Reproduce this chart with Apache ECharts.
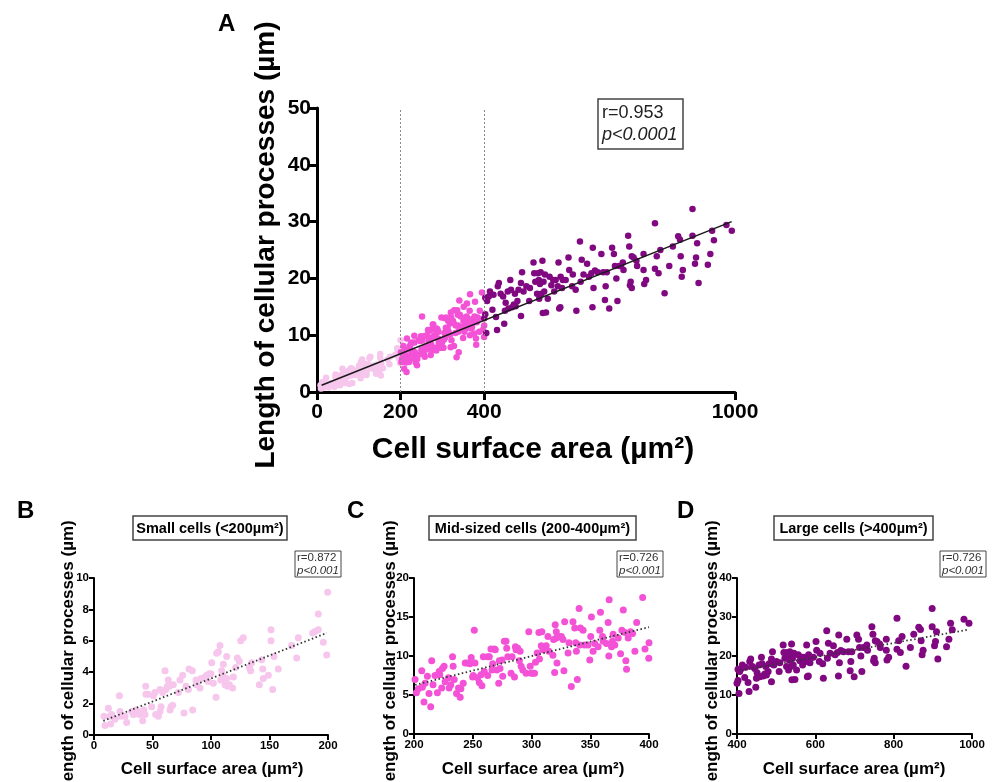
<!DOCTYPE html>
<html><head><meta charset="utf-8">
<script src="https://cdn.jsdelivr.net/npm/echarts@6/dist/echarts.min.js"></script>
<style>html,body{margin:0;padding:0;background:#fff}#c{width:992px;height:782px}</style>
</head><body><div id="c"></div>
<script>
// ---- data: cell surface area (µm²) vs length of cellular processes (µm)
const smallCells = [[8.5,1.2],[9.4,0.6],[12.3,1.7],[13.7,1.2],[14.2,0.7],[15.1,1.3],[17.9,1.0],[21.7,2.5],[22.2,1.5],[22.8,1.2],[26.5,1.2],[27.9,0.8],[32.2,1.5],[33.6,1.3],[35.9,1.6],[36.5,1.4],[38.7,1.3],[40.7,1.5],[41.6,0.9],[42.7,1.6],[43.6,1.3],[44.2,3.1],[44.4,2.6],[46.4,2.6],[49.3,1.8],[50.7,2.5],[52.1,2.7],[52.7,1.3],[55.0,1.2],[56.4,2.9],[56.4,1.5],[57.3,1.8],[58.7,2.7],[60.7,4.1],[61.5,2.9],[62.7,3.1],[63.5,3.5],[64.4,3.1],[65.0,1.6],[65.8,1.8],[67.2,1.9],[67.8,3.2],[72.1,2.7],[73.5,3.5],[75.8,3.8],[76.9,1.4],[78.6,3.1],[80.6,2.9],[81.2,4.2],[84.0,4.1],[84.3,1.6],[87.2,3.5],[87.7,3.2],[90.6,3.0],[91.5,3.6],[94.9,3.7],[96.3,3.8],[97.7,3.4],[98.6,3.9],[100.0,3.9],[100.6,4.6],[102.0,3.3],[104.3,2.4],[104.8,5.2],[106.3,5.3],[107.7,5.7],[108.3,3.5],[109.1,4.1],[110.0,3.8],[110.5,4.5],[112.0,3.2],[113.4,5.0],[113.4,3.6],[114.2,3.1],[115.7,3.2],[118.5,3.0],[119.1,3.7],[121.1,4.3],[122.5,4.9],[124.2,4.7],[125.4,6.0],[127.6,6.2],[132.8,4.3],[133.9,4.1],[134.8,4.6],[141.3,3.2],[143.3,4.8],[144.2,4.2],[144.7,3.6],[149.0,3.8],[151.3,6.7],[151.3,6.0],[152.7,2.9],[153.8,5.0],[157.5,4.2],[168.9,5.7],[173.2,4.9],[174.6,6.2],[186.9,6.5],[188.9,6.6],[191.7,6.7],[191.7,7.7],[196.0,5.9],[198.9,5.1],[199.7,9.1]];
const midCells = [[200.9,7.0],[202.0,5.3],[203.7,5.8],[206.6,8.1],[207.1,6.0],[208.5,4.1],[209.4,6.5],[211.4,7.4],[212.8,5.2],[214.2,3.5],[215.1,9.4],[216.2,6.3],[217.9,7.5],[219.9,5.3],[221.4,8.0],[221.9,7.6],[223.6,5.9],[224.2,8.4],[225.6,8.7],[226.5,6.7],[229.3,7.2],[229.9,5.9],[231.3,6.3],[232.8,9.9],[233.3,8.7],[234.2,7.0],[236.2,5.2],[237.9,5.9],[239.3,4.7],[239.9,5.8],[241.9,6.5],[243.6,9.1],[245.6,9.1],[247.6,9.0],[248.7,9.8],[249.9,7.3],[250.4,7.5],[251.3,13.3],[251.9,9.1],[254.1,7.2],[255.6,6.6],[257.0,7.6],[257.8,6.2],[259.0,9.9],[259.8,8.0],[262.7,9.9],[262.7,7.5],[264.1,9.9],[265.5,10.9],[266.4,8.2],[267.0,9.0],[268.4,10.9],[269.2,10.8],[270.4,8.2],[272.1,6.5],[272.6,9.4],[273.2,8.4],[274.9,9.5],[275.5,7.4],[276.9,11.9],[278.3,11.9],[278.9,11.0],[279.8,9.9],[282.6,7.8],[283.5,9.9],[285.5,7.3],[286.3,11.2],[286.9,10.8],[288.3,11.0],[289.7,9.4],[290.3,10.6],[291.2,8.7],[292.6,8.2],[295.4,7.8],[297.7,13.1],[298.9,8.7],[299.7,7.8],[301.1,7.8],[302.6,7.8],[303.4,9.2],[304.8,10.4],[306.3,13.0],[306.8,9.6],[308.3,11.3],[308.8,13.1],[309.7,10.8],[311.1,11.1],[312.5,11.3],[314.0,12.5],[314.8,10.6],[318.2,10.1],[318.8,12.1],[319.7,7.9],[320.2,14.0],[321.1,13.1],[321.1,12.3],[321.7,9.1],[323.4,12.5],[325.4,12.5],[326.8,12.1],[327.6,8.1],[328.2,14.4],[331.1,10.4],[331.9,11.7],[333.9,6.1],[335.3,14.4],[336.8,13.6],[337.6,11.7],[338.2,10.6],[339.0,7.0],[340.5,16.1],[341.0,11.4],[341.6,13.6],[343.9,13.3],[345.3,11.4],[348.1,11.4],[349.6,9.5],[350.4,12.5],[351.0,15.0],[352.4,10.6],[353.8,11.6],[356.7,11.2],[358.1,13.3],[358.7,15.6],[360.4,12.5],[361.0,11.9],[363.8,11.6],[365.2,14.3],[365.8,10.0],[366.1,17.2],[368.1,11.2],[368.9,11.9],[369.5,12.8],[370.9,11.4],[373.8,12.3],[375.8,10.3],[376.9,13.3],[378.1,15.9],[379.5,13.0],[380.3,9.4],[380.9,8.3],[382.3,12.3],[384.3,13.1],[386.0,12.9],[388.0,10.6],[389.5,14.3],[394.6,17.5],[396.6,10.9],[400.0,11.7],[399.8,9.7]];
const largeCells = [[400.0,13.0],[402.6,13.7],[405.1,10.4],[402.6,16.6],[406.8,16.0],[411.1,16.8],[413.7,17.7],[419.7,14.5],[422.2,17.1],[428.2,13.2],[430.8,10.9],[432.5,18.6],[435.0,19.2],[439.3,17.3],[445.3,16.8],[447.9,12.0],[449.6,14.3],[451.3,15.7],[456.4,17.7],[458.1,14.7],[462.4,19.7],[464.1,18.0],[466.7,14.9],[470.9,15.4],[473.5,17.3],[475.2,15.1],[479.5,16.0],[482.1,18.0],[488.0,19.2],[488.0,13.4],[490.6,21.1],[494.0,17.7],[500.9,18.6],[507.7,16.0],[509.4,18.3],[517.9,22.8],[519.7,20.9],[522.2,19.4],[526.5,17.3],[528.2,20.9],[530.8,19.7],[531.6,16.4],[533.3,19.0],[535.0,21.1],[536.8,17.3],[539.3,23.1],[540.2,13.9],[541.9,19.4],[543.6,17.7],[545.3,20.7],[547.9,14.0],[552.1,16.4],[556.4,20.3],[560.7,18.8],[565.0,19.7],[567.5,17.7],[570.9,19.7],[576.1,18.6],[577.8,22.8],[579.5,14.7],[582.1,14.9],[582.9,20.3],[586.3,18.3],[588.0,19.7],[594.9,19.7],[601.7,23.7],[603.4,21.5],[610.3,18.6],[612.0,20.7],[618.8,18.0],[620.5,14.3],[629.1,26.5],[630.8,19.4],[633.3,23.3],[637.6,20.7],[646.2,22.6],[650.4,20.3],[656.4,20.9],[659.8,25.4],[661.5,18.3],[659.0,14.9],[665.0,21.4],[671.8,21.1],[680.3,24.3],[684.6,21.1],[688.9,16.2],[690.6,18.6],[693.2,21.1],[699.1,14.7],[706.0,25.4],[710.3,24.3],[712.8,22.2],[716.2,20.0],[718.8,16.0],[723.1,22.2],[727.4,22.2],[731.6,22.8],[733.3,21.5],[744.4,27.5],[747.0,25.6],[748.7,18.8],[750.4,19.4],[753.0,23.9],[753.0,18.3],[757.3,23.7],[764.1,23.1],[765.8,22.2],[781.2,24.3],[781.2,21.5],[782.9,19.0],[787.2,19.7],[808.5,29.7],[808.5,21.7],[812.8,23.9],[817.1,20.9],[821.4,25.0],[831.6,17.4],[842.7,22.2],[851.3,25.6],[864.1,27.4],[868.4,26.8],[870.1,23.9],[872.6,20.3],[875.2,21.5],[898.3,32.2],[898.3,27.5],[904.3,22.6],[906.8,23.7],[909.4,26.2],[912.8,19.2],[935.0,22.4],[941.0,24.3],[945.3,28.4],[949.6,26.7],[979.5,29.4],[992.3,28.4]];

// regression lines (endpoints)
const fitAll = [[11, 1.2], [992, 30.0]];
const fitSmall = [[8, 0.9], [199, 6.5]];
const fitMid = [[201, 6.3], [400, 13.7]];
const fitLarge = [[410, 16.3], [992, 26.8]];

// axis ticks / cut-offs
const xTicksA = [0, 200, 400, 1000];
const sizeCutoffs = [200, 400];
const statsA = ['r=0.953', 'p<0.0001'];
const statsB = ['r=0.872', 'p<0.001'];
const statsC = ['r=0.726', 'p<0.001'];
const statsD = ['r=0.726', 'p<0.001'];

const COL_S = 'rgb(246,198,236)', COL_M = 'rgb(243,82,214)', COL_L = 'rgb(128,8,128)';
const FF = '"Liberation Sans", Arial, sans-serif';

const chart = echarts.init(document.getElementById('c'));

function axis(gi, min, max, interval, big) {
  return {
    type: 'value', gridIndex: gi, min: min, max: max, interval: interval,
    splitLine: { show: false },
    axisLine: { show: true, onZero: false, lineStyle: { color: '#000', width: big ? 3 : 2 } },
    axisTick: { show: true, inside: false, length: big ? 8 : 5, lineStyle: { color: '#000', width: big ? 3 : 2 } },
    axisLabel: { color: '#000', fontFamily: FF, fontWeight: 'bold', fontSize: big ? 21 : 11.5, margin: big ? 6 : 5,
      formatter: v => String(v) }
  };
}

const xA = axis(0, 0, 1000, 200, true);
xA.axisTick.customValues = xTicksA;
xA.axisLabel.customValues = xTicksA;
xA.axisLabel.margin = 10;

const option = {
  animation: false,
  backgroundColor: '#fff',
  grid: [
    { left: 317, top: 108, width: 418, height: 284 },
    { left: 94, top: 578, width: 234, height: 157 },
    { left: 414, top: 578, width: 235, height: 156 },
    { left: 737, top: 578, width: 235, height: 156 }
  ],
  xAxis: [
    xA,
    axis(1, 0, 200, 50, false),
    axis(2, 200, 400, 50, false),
    axis(3, 400, 1000, 200, false)
  ],
  yAxis: [
    axis(0, 0, 50, 10, true),
    axis(1, 0, 10, 2, false),
    axis(2, 0, 20, 5, false),
    axis(3, 0, 40, 10, false)
  ],
  series: [
    { type: 'scatter', xAxisIndex: 0, yAxisIndex: 0, data: smallCells, symbolSize: 6.5, itemStyle: { color: COL_S, opacity: 1 },
      markLine: { silent: true, symbol: 'none', label: { show: false }, lineStyle: { type: [2, 2], color: '#8a8a8a', width: 1 },
        data: sizeCutoffs.map(v => ({ xAxis: v })) } },
    { type: 'scatter', xAxisIndex: 0, yAxisIndex: 0, data: midCells, symbolSize: 6.5, itemStyle: { color: COL_M, opacity: 1 } },
    { type: 'scatter', xAxisIndex: 0, yAxisIndex: 0, data: largeCells, symbolSize: 6.5, itemStyle: { color: COL_L, opacity: 1 } },
    { type: 'line', xAxisIndex: 0, yAxisIndex: 0, data: fitAll, showSymbol: false, z: 5, lineStyle: { color: '#1a1a1a', width: 1.5 } },

    { type: 'scatter', xAxisIndex: 1, yAxisIndex: 1, data: smallCells, symbolSize: 7, itemStyle: { color: COL_S, opacity: 1 } },
    { type: 'line', xAxisIndex: 1, yAxisIndex: 1, data: fitSmall, showSymbol: false, z: 5, lineStyle: { color: '#333', width: 1.8, type: [1.5, 2.5] } },
    { type: 'scatter', xAxisIndex: 2, yAxisIndex: 2, data: midCells, symbolSize: 7, itemStyle: { color: COL_M, opacity: 1 } },
    { type: 'line', xAxisIndex: 2, yAxisIndex: 2, data: fitMid, showSymbol: false, z: 5, lineStyle: { color: '#333', width: 1.8, type: [1.5, 2.5] } },
    { type: 'scatter', xAxisIndex: 3, yAxisIndex: 3, data: largeCells, symbolSize: 7, itemStyle: { color: COL_L, opacity: 1 } },
    { type: 'line', xAxisIndex: 3, yAxisIndex: 3, data: fitLarge, showSymbol: false, z: 5, lineStyle: { color: '#333', width: 1.8, type: [1.5, 2.5] } }
  ],
  graphic: []
};

const G = option.graphic;
function txt(x, y, text, size, opts) {
  opts = opts || {};
  G.push({ type: 'text', x: x, y: y, rotation: opts.rot || 0, z: 100,
    style: { text: text, fontFamily: FF, fontSize: size, fontWeight: opts.weight || 'bold', fontStyle: opts.italic ? 'italic' : 'normal',
      fill: opts.fill || '#000', textAlign: opts.align || 'center', textVerticalAlign: 'middle' } });
}
function box(x, y, w, h, lw) {
  G.push({ type: 'rect', shape: { x: x, y: y, width: w, height: h }, z: 99,
    style: { fill: '#fff', stroke: '#444', lineWidth: lw || 1.5 } });
}

// Panel letters
txt(218, 24, 'A', 24, { align: 'left' });
txt(17, 511, 'B', 24, { align: 'left' });
txt(347, 511, 'C', 24, { align: 'left' });
txt(677, 511, 'D', 24, { align: 'left' });

// Panel A titles
const yTitle = 'Length of cellular processes (µm)';
const xTitle = 'Cell surface area (µm²)';
txt(266, 245, yTitle, 28, { rot: Math.PI / 2 });
txt(533, 450, xTitle, 30);
box(598, 99, 85, 50, 1.5);
txt(602, 113, statsA[0], 18, { align: 'left', weight: 'normal', fill: '#222' });
txt(602, 135, statsA[1], 18, { align: 'left', weight: 'normal', italic: true, fill: '#222' });

// Sub-panels
const subs = [
  { yx: 68, xc: 212, title: 'Small cells (<200µm²)', bx: 133, bw: 154, rx: 295, stats: statsB },
  { yx: 390, xc: 533, title: 'Mid-sized cells (200-400µm²)', bx: 429, bw: 207, rx: 617, stats: statsC },
  { yx: 712, xc: 854, title: 'Large cells (>400µm²)', bx: 774, bw: 159, rx: 940, stats: statsD }
];
subs.forEach(s => {
  txt(s.yx, 656, yTitle, 17, { rot: Math.PI / 2 });
  txt(s.xc, 769, xTitle, 17);
  box(s.bx, 516, s.bw, 24, 1.5);
  txt(s.bx + s.bw / 2, 528.5, s.title, 14.5);
  box(s.rx, 551, 46, 26, 1);
  txt(s.rx + 2, 558, s.stats[0], 11.5, { align: 'left', weight: 'normal', fill: '#333' });
  txt(s.rx + 2, 571, s.stats[1], 11.5, { align: 'left', weight: 'normal', italic: true, fill: '#333' });
});

chart.setOption(option);
</script>
</body></html>
